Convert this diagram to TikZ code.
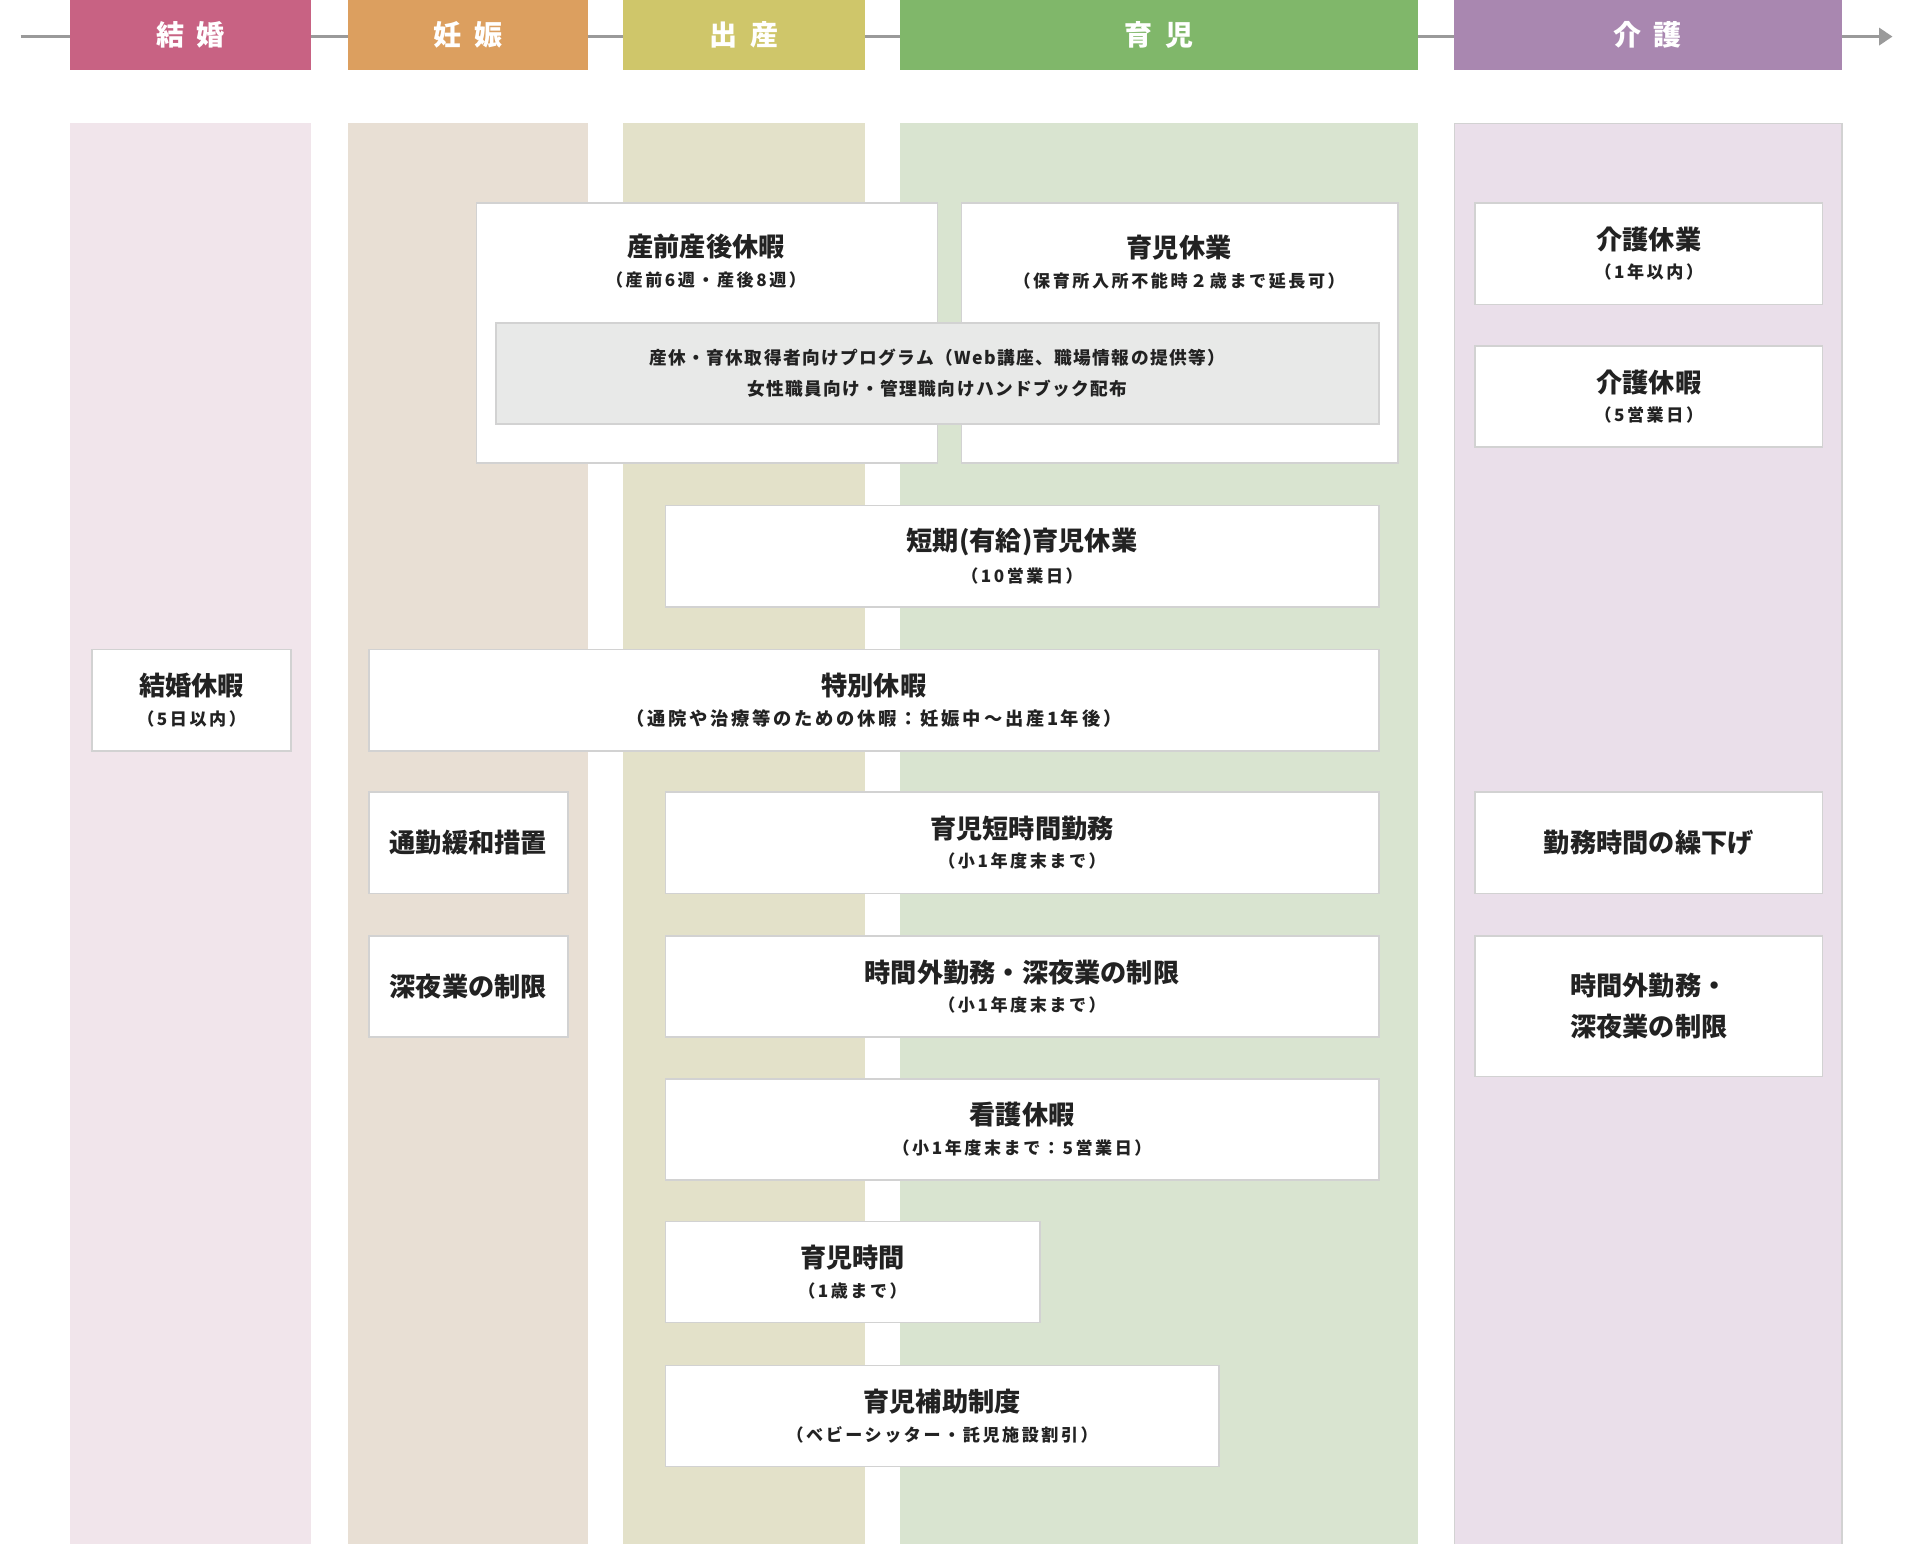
\documentclass[tikz,border=0pt]{standalone}
\usepackage{fontspec}
\setmainfont{Noto Sans CJK JP}
\newfontfamily\jpsub{Noto Sans CJK JP}[LetterSpace=15]
\newfontfamily\jpprog{Noto Sans CJK JP}[LetterSpace=8]
\usetikzlibrary{arrows.meta}
\definecolor{hdA}{HTML}{C86283}
\definecolor{hdB}{HTML}{DC9F5F}
\definecolor{hdC}{HTML}{CFC66A}
\definecolor{hdD}{HTML}{80B76A}
\definecolor{hdE}{HTML}{A987B0}
\definecolor{bgA}{HTML}{F1E5EB}
\definecolor{bgB}{HTML}{E8DFD4}
\definecolor{bgC}{HTML}{E3E1C9}
\definecolor{bgD}{HTML}{D9E4D0}
\definecolor{bgE}{HTML}{EADFEA}
\definecolor{boxline}{HTML}{D2D2D2}
\definecolor{progfill}{HTML}{E8E9E8}
\definecolor{ink}{HTML}{222222}
\definecolor{tl}{HTML}{9A9A9A}
\newcommand{\cT}{\bfseries\fontsize{21.5}{25}\selectfont}
\newcommand{\cS}{\jpsub\bfseries\fontsize{14}{17}\selectfont}
\newcommand{\cSw}{\jpsub\bfseries\fontsize{15}{18}\selectfont}
\newcommand{\cP}{\jpprog\bfseries\fontsize{14.5}{17}\selectfont}
\begin{document}
\begin{tikzpicture}[x=1pt,y=-1pt,
  header/.style={anchor=north west, inner sep=0pt, minimum height=57pt, text=white, font=\bfseries\fontsize{23}{26}\selectfont},
  colbg/.style={anchor=north west, inner sep=0pt, minimum height=1165pt},
  card/.style={draw=boxline, line width=1.3pt, fill=white, anchor=north west, inner sep=0pt, align=center, text=ink, minimum height=83pt},
  lbl/.style={align=center, text=ink, inner sep=0pt}
]
\useasboundingbox (0,0) rectangle (1568,1266);

% timeline
\coordinate (tlstart) at (17,30);
\coordinate (tlend) at (1552,30);
\draw[tl, line width=2.6pt, -{Triangle[length=11pt,width=14pt]}] (tlstart) -- (tlend);

% column backgrounds
\node[colbg, fill=bgA, minimum width=198pt] (bgkekkon) at (57,101) {};
\node[colbg, fill=bgB, minimum width=197pt] (bgninshin) at (285,101) {};
\node[colbg, fill=bgC, minimum width=198pt] (bgshussan) at (511,101) {};
\node[colbg, fill=bgD, minimum width=425pt] (bgikuji) at (738,101) {};
\node[colbg, fill=bgE, draw=boxline, line width=1pt, minimum width=318pt] (bgkaigo) at (1192,101) {};

% headers
\node[header, fill=hdA, minimum width=198pt] (hkekkon) at (57,0) {結\hspace{0.45em}婚};
\node[header, fill=hdB, minimum width=197pt] (hninshin) at (285,0) {妊\hspace{0.45em}娠};
\node[header, fill=hdC, minimum width=198pt] (hshussan) at (511,0) {出\hspace{0.45em}産};
\node[header, fill=hdD, minimum width=425pt] (hikuji) at (738,0) {育\hspace{0.45em}児};
\node[header, fill=hdE, minimum width=318pt] (hkaigo) at (1192,0) {介\hspace{0.45em}護};

% top large cards
\node[card, minimum width=378pt, minimum height=213pt] (sanzen) at (390,166) {};
\node[lbl] (sanzenT) at (579,214) {{\cT 産前産後休暇}\\[9pt]{\cS （産前6週・産後8週）}};
\node[card, minimum width=358pt, minimum height=213pt] (ikukyu) at (788,166) {};
\node[lbl] (ikukyuT) at (967,215) {{\cT 育児休業}\\[9pt]{\cS （保育所入所不能時２歳まで延長可）}};
\node[card, fill=progfill, minimum width=724pt] (prog) at (406,264) {\cP 産休・育休取得者向けプログラム（Web講座、職場情報の提供等）\\[10pt]\cP 女性職員向け・管理職向けハンドブック配布};

% kaigo column
\node[card, minimum width=285pt] (kaigoK) at (1209,166) {{\cT 介護休業}\\[9pt]{\cS （1年以内）}};
\node[card, minimum width=285pt] (kaigoH) at (1209,283) {{\cT 介護休暇}\\[9pt]{\cS （5営業日）}};
\node[card, minimum width=285pt] (kurisage) at (1209,649) {\cT 勤務時間の繰下げ};
\node[card, minimum width=285pt, minimum height=115pt] (kaigoJ) at (1209,767) {\cT 時間外勤務・\\[12pt]\cT 深夜業の制限};

% middle cards
\node[card, minimum width=585pt] (tanki) at (545,414) {{\cT 短期(有給)育児休業}\\[9pt]{\cS （10営業日）}};
\node[card, minimum width=163pt] (kekkon) at (75,532) {{\cT 結婚休暇}\\[9pt]{\cS （5日以内）}};
\node[card, minimum width=828pt] (tokubetsu) at (302,532) {{\cT 特別休暇}\\[9pt]{\cSw （通院や治療等のための休暇：妊娠中～出産1年後）}};
\node[card, minimum width=163pt] (tsukin) at (302,649) {\cT 通勤緩和措置};
\node[card, minimum width=585pt] (tanjikan) at (545,649) {{\cT 育児短時間勤務}\\[9pt]{\cS （小1年度末まで）}};
\node[card, minimum width=163pt] (shinya) at (302,767) {\cT 深夜業の制限};
\node[card, minimum width=585pt] (jikangai) at (545,767) {{\cT 時間外勤務・深夜業の制限}\\[9pt]{\cS （小1年度末まで）}};
\node[card, minimum width=585pt] (kango) at (545,884) {{\cT 看護休暇}\\[9pt]{\cS （小1年度末まで：5営業日）}};
\node[card, minimum width=307pt] (ikujiJ) at (545,1001) {{\cT 育児時間}\\[9pt]{\cS （1歳まで）}};
\node[card, minimum width=454pt] (hojo) at (545,1119) {{\cT 育児補助制度}\\[9pt]{\cS （ベビーシッター・託児施設割引）}};
\end{tikzpicture}
\end{document}
